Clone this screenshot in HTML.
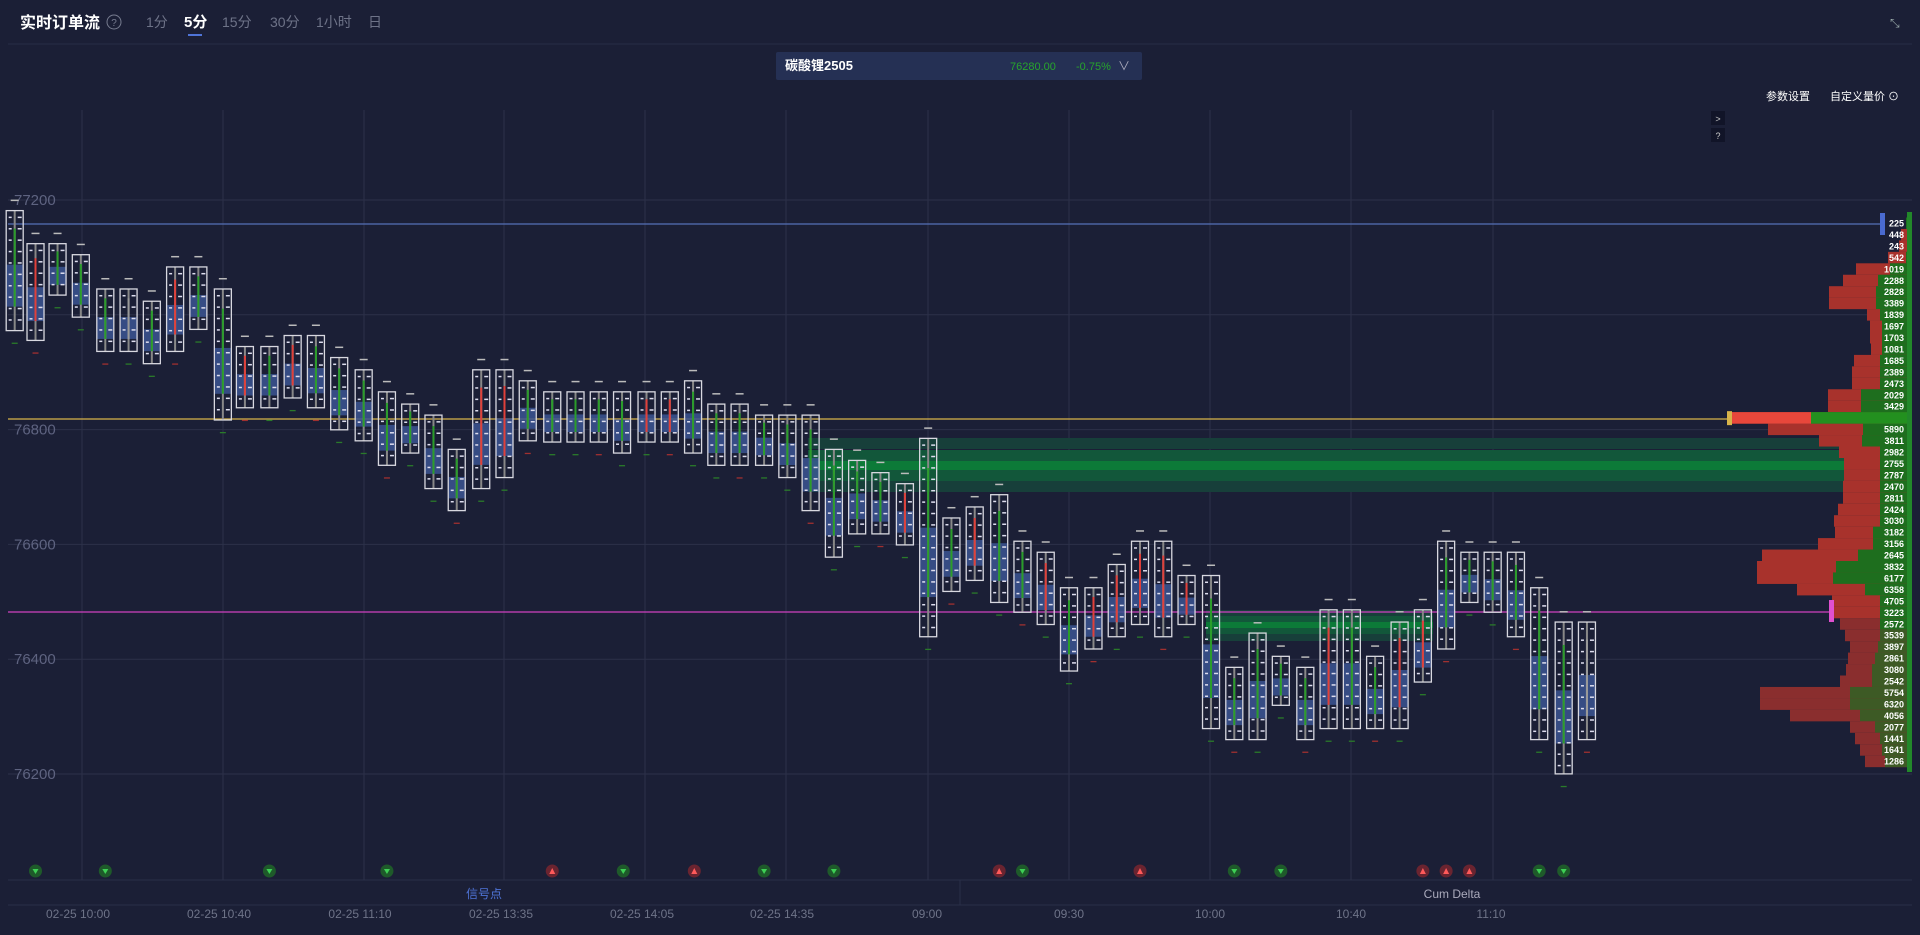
<!DOCTYPE html>
<html><head><meta charset="utf-8"><style>
html,body{margin:0;padding:0;background:#1b1f36;width:1920px;height:935px;overflow:hidden;font-family:"Liberation Sans","Noto Sans CJK SC",sans-serif}
svg{position:absolute;left:0;top:0}
</style></head><body>
<svg id="s" width="1920" height="935" xmlns="http://www.w3.org/2000/svg">
<rect width="1920" height="935" fill="#1b1f36"/>
<text x="20" y="28" fill="#fff" font-size="16" font-weight="bold">实时订单流</text>
<circle cx="114" cy="22" r="7" fill="none" stroke="#777c90" stroke-width="1"/>
<text x="114" y="26" fill="#777c90" font-size="10" text-anchor="middle">?</text>
<text x="146" y="27" fill="#6e7388" font-size="14">1分</text>
<text x="184" y="27" fill="#fff" font-size="15" font-weight="bold">5分</text>
<rect x="188" y="34" width="14" height="2" fill="#4f74d8"/>
<text x="222" y="27" fill="#6e7388" font-size="14">15分</text>
<text x="270" y="27" fill="#6e7388" font-size="14">30分</text>
<text x="316" y="27" fill="#6e7388" font-size="14">1小时</text>
<text x="368" y="27" fill="#6e7388" font-size="14">日</text>
<text x="1890" y="27" fill="#9aa" font-size="12">⤡</text>
<line x1="8" y1="44" x2="1912" y2="44" stroke="#272c45"/>
<rect x="776" y="52" width="366" height="28" rx="2" fill="#253054"/>
<text x="785" y="70" fill="#fff" font-size="13" font-weight="bold">碳酸锂2505</text>
<text x="1010" y="70" fill="#27a52c" font-size="11">76280.00</text>
<text x="1076" y="70" fill="#27a52c" font-size="11">-0.75%</text>
<text x="1118" y="70" fill="#aab" font-size="12">∨</text>
<text x="1766" y="100" fill="#fff" font-size="11">参数设置</text>
<text x="1830" y="100" fill="#fff" font-size="11">自定义量价 ⊙</text>
<rect x="1711" y="111" width="14" height="14" fill="#111428"/><text x="1718" y="122" fill="#ccc" font-size="9" text-anchor="middle">&gt;</text>
<rect x="1711" y="128" width="14" height="14" fill="#111428"/><text x="1718" y="139" fill="#ccc" font-size="9" text-anchor="middle">?</text>
<g id="g"></g>
<line x1="8" y1="880" x2="1912" y2="880" stroke="#2a2f48"/>
<line x1="960" y1="880" x2="960" y2="905" stroke="#2a2f48"/>
<line x1="8" y1="905" x2="1912" y2="905" stroke="#2a2f48"/>
<text x="484" y="898" fill="#4f74d8" font-size="12" text-anchor="middle">信号点</text>
<text x="1452" y="898" fill="#aab" font-size="12" text-anchor="middle">Cum Delta</text>
<g id="t" fill="#6e7388" font-size="12" text-anchor="middle"></g>
</svg>
<script>
var NS="http://www.w3.org/2000/svg",g=document.getElementById('g');
function el(n,a,p){var e=document.createElementNS(NS,n);for(var k in a)e.setAttribute(k,a[k]);(p||g).appendChild(e);return e;}
function Y(p){return 774-(p-76200)*0.574;}
[77200,77000,76800,76600,76400,76200].forEach(function(p){var y=Y(p);el('line',{x1:8,y1:y,x2:1912,y2:y,stroke:'#2c3149'});
 if(p!=77000){var t=el('text',{x:14,y:y+5,fill:'#5e6380','font-size':15});t.textContent=p;}});
[82,223,364,504,645,786,928,1069,1210,1351,1493].forEach(function(x){el('line',{x1:x,y1:110,x2:x,y2:880,stroke:'#2c3149'});});
var b1=[['#173f3a',438],['#12573a',450],['#0c7a38',461],['#12573a',470],['#173f3a',481]];
b1.forEach(function(b){el('rect',{x:808,y:b[1],width:1037,height:11,fill:b[0]});});
var b2=[['#173f3a',610],['#12573a',616],['#0c7a38',622],['#12573a',628],['#173f3a',634]];
b2.forEach(function(b){el('rect',{x:1206,y:b[1],width:227,height:7,fill:b[0]});});
el('line',{x1:8,y1:224,x2:1885,y2:224,stroke:'#5570b8','stroke-width':1.2});
el('line',{x1:8,y1:419,x2:1730,y2:419,stroke:'#d8b44a','stroke-width':1.2});
el('line',{x1:8,y1:612,x2:1832,y2:612,stroke:'#d040c0','stroke-width':1.2});
var C=[[12,172,270],[29,199,278],[47,199,241],[66,208,259],[86,236,287],[105,236,287],[124,246,297],[143,218,287],[162,218,269],[182,236,343],[200,283,333],[220,283,333],[239,274,325],[258,274,333],[277,292,351],[297,302,360],[316,320,380],[335,330,370],[354,339,399],[373,367,417],[393,302,399],[412,302,390],[431,311,360],[451,320,361],[470,320,361],[489,320,361],[508,320,370],[528,320,361],[547,320,361],[566,311,370],[585,330,380],[604,330,380],[624,339,380],[643,339,390],[662,339,417],[681,367,455],[700,376,436],[719,386,436],[739,395,445],[758,358,520],[777,423,483],[796,414,474],[816,404,492],[835,442,500],[854,451,510],[873,480,548],[893,480,530],[912,461,520],[931,442,510],[950,442,520],[969,470,510],[989,470,595],[1008,545,604],[1027,517,604],[1046,536,576],[1066,545,604],[1085,498,595],[1104,498,595],[1123,536,595],[1143,508,595],[1162,498,557],[1181,442,530],[1200,451,492],[1219,451,500],[1238,451,520],[1257,480,604],[1277,508,632],[1296,508,604]];
var col="grgggwgrggrgrgggggggrrgggggrrgggggggggrggrggrgrrrrrgggggrggrrgggggg";
var S=1.2245;
C.forEach(function(c,i){
 var x=c[0]*S,t=c[1]*S,b=c[2]*S,h=b-t;
 var bt=t+h*0.45,bb=t+h*0.8;
 el('rect',{x:x-8,y:bt,width:16,height:bb-bt,fill:'#3b5592','opacity':0.85});
 for(var yy=t+6;yy<b-3;yy+=11.4){el('rect',{x:x-6,y:yy,width:3,height:1.5,fill:'#dde'});el('rect',{x:x+3,y:yy,width:4,height:1.5,fill:'#dde'});}
 var cc=col[i]=='g'?'#2a9d2a':col[i]=='r'?'#e0403a':'#999';
 el('line',{x1:x,y1:t,x2:x,y2:b,stroke:'#888','stroke-width':2});
 el('line',{x1:x,y1:t+h*0.15,x2:x,y2:b-h*0.2,stroke:cc,'stroke-width':2});
 el('rect',{x:x-8.5,y:t,width:17,height:h,fill:'none',stroke:'#d8d8e0','stroke-width':1.3});
 el('rect',{x:x-4,y:t-11,width:8,height:1.5,fill:'#bbb'});
 el('rect',{x:x-3,y:b+12,width:6,height:1.3,fill:i%3==1?'#a03030':'#2a7a2a'});
});
var nums=[225,448,243,542,1019,2288,2828,3389,1839,1697,1703,1081,1685,2389,2473,2029,3429,7392,5890,3811,2982,2755,2787,2470,2811,2424,3030,3182,3156,2645,3832,6177,6358,4705,3223,2572,3539,3897,2861,3080,2542,5754,6320,4056,2077,1441,1641,1286];
var red=[1912,1901,1899,1888,1856,1843,1829,1829,1867,1870,1870,1871,1854,1852,1852,1828,1828,1732,1768,1819,1839,1844,1844,1843,1843,1838,1834,1835,1818,1762,1757,1757,1797,1832,1832,1840,1845,1850,1848,1846,1840,1760,1760,1790,1850,1855,1860,1865];
var grn=[1906,1908,1908,1906,1890,1878,1876,1876,1880,1882,1882,1882,1880,1880,1880,1861,1861,1811,1863,1862,1880,1880,1880,1880,1880,1880,1880,1873,1873,1858,1836,1833,1865,1880,1880,1880,1880,1878,1875,1872,1872,1850,1850,1860,1875,1880,1882,1885];
var r0=217.5;
nums.forEach(function(n,i){var y=r0+i*11.45;
 el('rect',{x:red[i],y:y,width:1912-red[i],height:11.5,fill:i>=35?'#8a2e2e':'#a8322c'});
 el('rect',{x:grn[i],y:y,width:1912-grn[i],height:11.5,fill:i>=36?'#3d5a25':'#1e6e1e'});
 var t=el('text',{x:1904,y:y+9,fill:'#fff','font-size':9,'font-weight':'bold','text-anchor':'end'});t.textContent=n;});
el('rect',{x:1732,y:r0+17*11.45,width:79,height:11.5,fill:'#e8473b'});
el('rect',{x:1811,y:r0+17*11.45,width:101,height:11.5,fill:'#23901f'});
el('rect',{x:1727,y:r0+17*11.45-1,width:5,height:14,fill:'#d8b44a'});
el('rect',{x:1880,y:213,width:5,height:22,fill:'#4a6ad0'});
el('rect',{x:1829,y:600,width:5,height:22,fill:'#e050d0'});
el('rect',{x:1907,y:212,width:5,height:560,fill:'#22882a'});
var sg=[[29,'g'],[86,'g'],[220,'g'],[316,'g'],[451,'r'],[509,'g'],[567,'r'],[624,'g'],[681,'g'],[816,'r'],[835,'g'],[931,'r'],[1008,'g'],[1046,'g'],[1162,'r'],[1181,'r'],[1200,'r'],[1257,'g'],[1277,'g']];
sg.forEach(function(s){var x=s[0]*S;el('circle',{cx:x,cy:871,r:6.5,fill:s[1]=='g'?'#1e5a2a':'#6a2430'});
 el('path',{d:s[1]=='g'?'M'+(x-3)+' 869 L'+(x+3)+' 869 L'+x+' 874Z':'M'+(x-3)+' 874 L'+(x+3)+' 874 L'+x+' 868Z',fill:s[1]=='g'?'#3ecf55':'#ff5a5a'});});
var tl=[[78,'02-25 10:00'],[219,'02-25 10:40'],[360,'02-25 11:10'],[501,'02-25 13:35'],[642,'02-25 14:05'],[782,'02-25 14:35'],[927,'09:00'],[1069,'09:30'],[1210,'10:00'],[1351,'10:40'],[1491,'11:10']];
var tg=document.getElementById('t');
tl.forEach(function(a){var t=el('text',{x:a[0],y:918},tg);t.textContent=a[1];});
</script>
</body></html>
